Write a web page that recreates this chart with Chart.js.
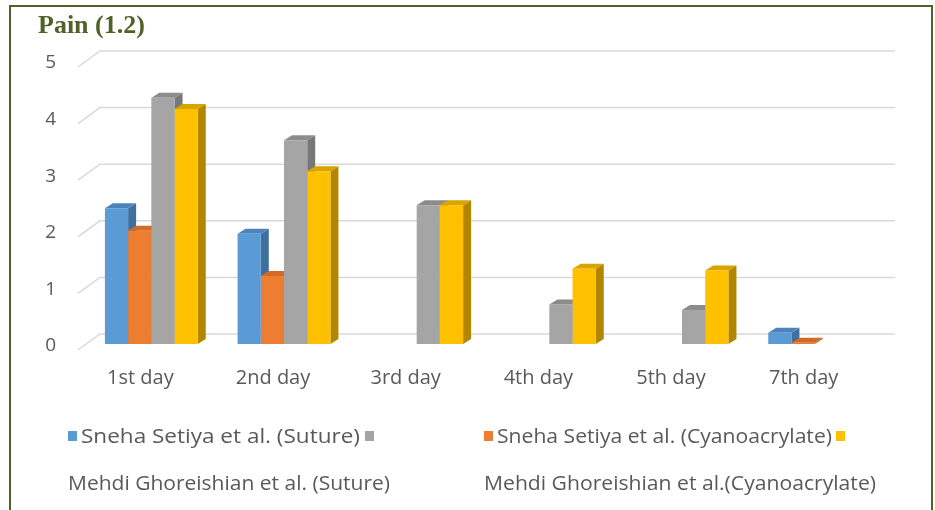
<!DOCTYPE html>
<html>
<head>
<meta charset="utf-8">
<script src="https://cdn.jsdelivr.net/npm/chart.js@4.4.1/dist/chart.umd.min.js"></script>
<style>
  body { margin: 0; background: #fff; }
  #wrap { position: relative; width: 935px; height: 510px; overflow: hidden; background: #fff; }
  #frame { position: absolute; left: 9px; top: 5px; width: 924px; height: 540px; border: 2px solid #4f6228; box-sizing: border-box; }
  #title { position: absolute; left: 38px; top: 11px; font: bold 26px "Liberation Serif", serif; line-height: 27px; color: #4f6228; white-space: nowrap; }
  .lg { position: absolute; font: 20px "Open Sans", sans-serif; line-height: 24px; color: #595959; white-space: nowrap; transform-origin: 0 50%; }
  .sw { position: absolute; width: 9px; height: 10px; }
  canvas { position: absolute; left: 0; top: 0; }
</style>
</head>
<body>
<div id="wrap">
  <div id="frame"></div>
  <canvas id="chart" width="935" height="510"></canvas>
  <div id="title">Pain (1.2)</div>
  <div id="legend"></div>
</div>
<script>
const days = ['1st day', '2nd day', '3rd day', '4th day', '5th day', '7th day'];
const setiyaSuture = [2.4, 1.95, null, null, null, 0.2];
const setiyaCyano = [2.0, 1.2, null, null, null, 0.02];
const mehdiSuture = [4.35, 3.6, 2.45, 0.7, 0.6, null];
const mehdiCyano = [4.15, 3.05, 2.45, 1.33, 1.3, null];
const yTicks = [0, 1, 2, 3, 4, 5];

const seriesNames = [
  'Sneha Setiya et al. (Suture)',
  'Sneha Setiya et al. (Cyanoacrylate)',
  'Mehdi Ghoreishian et al. (Suture)',
  'Mehdi Ghoreishian et al.(Cyanoacrylate)'
];
const frontCol = ['#5b9bd5', '#ed7d31', '#a5a5a5', '#ffc000'];
const sideCol = ['#3f6f9c', '#b85f22', '#777777', '#b38600'];
const topCol = ['#4b84bb', '#d06a26', '#8c8c8c', '#d9a300'];

const DX = 8, DY = 5;

// back grid lines with the little diagonal at the left, and bar side/top faces
const fake3d = {
  id: 'fake3d',
  beforeDatasetsDraw(chart) {
    const ctx = chart.ctx;
    const y = chart.scales.y;
    ctx.save();
    ctx.strokeStyle = '#d9d9d9';
    ctx.lineWidth = 1.5;
    yTicks.forEach(v => {
      const py = y.getPixelForValue(v) - 10;
      ctx.beginPath();
      ctx.moveTo(78, py + 16);
      ctx.lineTo(100, py);
      ctx.lineTo(895, py);
      ctx.stroke();
    });
    chart.data.datasets.forEach((ds, di) => {
      const meta = chart.getDatasetMeta(di);
      meta.data.forEach((bar, i) => {
        if (ds.data[i] == null) return;
        const { x, y: by, base, width } = bar.getProps(['x', 'y', 'base', 'width'], true);
        const l = x - width / 2, r = x + width / 2;
        ctx.fillStyle = sideCol[di];
        ctx.beginPath();
        ctx.moveTo(r, by);
        ctx.lineTo(r + DX, by - DY);
        ctx.lineTo(r + DX, base - DY);
        ctx.lineTo(r, base);
        ctx.closePath();
        ctx.fill();
        ctx.fillStyle = topCol[di];
        ctx.beginPath();
        ctx.moveTo(l, by);
        ctx.lineTo(l + DX, by - DY);
        ctx.lineTo(r + DX, by - DY);
        ctx.lineTo(r, by);
        ctx.closePath();
        ctx.fill();
      });
    });
    ctx.restore();
  }
};

new Chart(document.getElementById('chart'), {
  type: 'bar',
  data: {
    labels: days,
    datasets: [setiyaSuture, setiyaCyano, mehdiSuture, mehdiCyano].map((d, i) => ({
      label: seriesNames[i],
      data: d,
      backgroundColor: frontCol[i],
      borderWidth: 0,
      barPercentage: 1,
      categoryPercentage: 0.7
    }))
  },
  options: {
    responsive: false,
    animation: false,
    layout: { padding: { top: 61, right: 54, left: 0, bottom: 0 } },
    plugins: { legend: { display: false }, title: { display: false }, tooltip: { enabled: false } },
    scales: {
      x: {
        grid: { display: false, drawTicks: false },
        border: { display: false },
        ticks: { color: '#595959', font: { family: 'Open Sans', size: 20 }, padding: 22, labelOffset: -11 },
        afterFit: s => { s.height = 166; }
      },
      y: {
        min: 0,
        max: 5,
        grid: { display: false, drawTicks: false },
        border: { display: false },
        ticks: { stepSize: 1, color: '#595959', font: { family: 'Open Sans', size: 19 }, padding: 29, labelOffset: 2 },
        afterFit: s => { s.width = 85; }
      }
    }
  },
  plugins: [fake3d]
});

// legend laid out the way the original wraps it
const legendEl = document.getElementById('legend');
const legendText = [
  { text: seriesNames[0], x: 81, y: 424, w: 279 },
  { text: seriesNames[1], x: 497, y: 424, w: 335 },
  { text: seriesNames[2], x: 68, y: 471, w: 322 },
  { text: seriesNames[3], x: 484, y: 471, w: 392 }
];
const swatches = [
  { c: frontCol[0], x: 68, y: 431 },
  { c: frontCol[2], x: 365, y: 431 },
  { c: frontCol[1], x: 484, y: 431 },
  { c: frontCol[3], x: 836, y: 431 }
];
swatches.forEach(s => {
  const d = document.createElement('div');
  d.className = 'sw';
  d.style.left = s.x + 'px';
  d.style.top = s.y + 'px';
  d.style.background = s.c;
  legendEl.appendChild(d);
});
legendText.forEach(t => {
  const d = document.createElement('div');
  d.className = 'lg';
  d.textContent = t.text;
  d.style.left = t.x + 'px';
  d.style.top = t.y + 'px';
  legendEl.appendChild(d);
  const natural = d.getBoundingClientRect().width;
  d.style.transform = `scaleX(${t.w / natural})`;
});
</script>
</body>
</html>
